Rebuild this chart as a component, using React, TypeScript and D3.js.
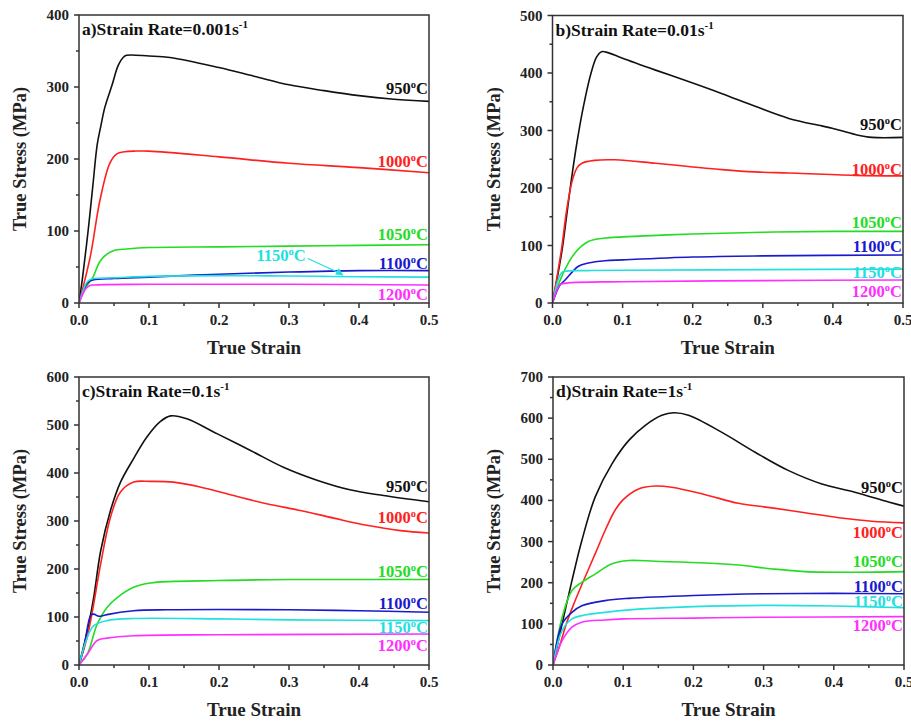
import React from "react";
import * as d3 from "d3";

type Pt = [number, number];

// ---- Panel a) 0.001 s^-1 ----
const a950: Pt[] = [[0,0],[0.005,35],[0.013,100],[0.02,165],[0.026,220],[0.031,245],[0.037,272],[0.047,302],[0.056,330],[0.063,341],[0.068,344],[0.1,343],[0.13,341],[0.2,327],[0.25,315],[0.3,303],[0.35,295],[0.4,288],[0.45,283],[0.5,280]];
const a1000: Pt[] = [[0,0],[0.016,64],[0.03,143],[0.044,194],[0.054,207],[0.065,210],[0.08,211],[0.1,211],[0.2,203],[0.3,194],[0.4,188],[0.5,181]];
const a1050: Pt[] = [[0,0],[0.01,22],[0.015,29],[0.02,36],[0.03,58],[0.04,68],[0.05,73],[0.068,75],[0.1,77],[0.2,78],[0.3,79],[0.4,80],[0.5,81]];
const a1100: Pt[] = [[0,0],[0.005,15],[0.01,25],[0.015,30],[0.02,32],[0.05,34],[0.1,36],[0.2,40],[0.3,43],[0.4,45],[0.5,45]];
const a1150: Pt[] = [[0,0],[0.01,27],[0.015,32],[0.02,34],[0.05,35],[0.1,37],[0.2,38],[0.3,37.5],[0.4,36.5],[0.5,36]];
const a1200: Pt[] = [[0,0],[0.005,12],[0.01,20],[0.015,24],[0.02,25],[0.1,26],[0.3,26],[0.5,25]];

// ---- Panel b) 0.01 s^-1 ----
const b950: Pt[] = [[0,0],[0.013,87],[0.02,150],[0.027,215],[0.035,280],[0.044,341],[0.055,400],[0.063,428],[0.07,437],[0.08,435],[0.099,426],[0.147,405],[0.199,383],[0.242,364],[0.289,342],[0.337,321],[0.384,308],[0.399,304],[0.432,293],[0.456,288],[0.5,288]];
const b1000: Pt[] = [[0,0],[0.013,95],[0.02,160],[0.028,212],[0.035,235],[0.042,243],[0.06,248],[0.089,249],[0.147,243],[0.194,237.5],[0.242,232],[0.289,228],[0.337,226],[0.432,222],[0.5,221]];
const b1050: Pt[] = [[0,0],[0.013,46],[0.032,87],[0.051,107],[0.075,113],[0.1,115],[0.2,120],[0.3,123],[0.4,124.5],[0.5,124.5]];
const b1100: Pt[] = [[0,0],[0.01,30],[0.018,40],[0.037,64],[0.051,69.5],[0.075,73.5],[0.1,75],[0.2,80],[0.3,82],[0.5,83.5]];
const b1150: Pt[] = [[0,0],[0.008,40],[0.013,53],[0.02,55.5],[0.05,56.3],[0.1,57],[0.3,58],[0.5,59]];
const b1200: Pt[] = [[0,0],[0.006,22],[0.011,32],[0.023,35],[0.1,37],[0.3,39],[0.5,40]];

// ---- Panel c) 0.1 s^-1 ----
const c950: Pt[] = [[0,0],[0.012,72],[0.021,141],[0.031,238],[0.045,322],[0.059,380],[0.078,430],[0.097,475],[0.116,507],[0.131,519],[0.154,513],[0.197,482],[0.245,447],[0.292,412],[0.34,385],[0.387,365],[0.435,353],[0.5,340]];
const c1000: Pt[] = [[0,0],[0.012,60],[0.021,127],[0.031,211],[0.045,308],[0.059,360],[0.078,381],[0.102,382.5],[0.135,381],[0.173,371],[0.221,353],[0.268,336],[0.316,322],[0.364,306],[0.411,291],[0.459,280],[0.5,275]];
const c1050: Pt[] = [[0,0],[0.012,23],[0.026,85],[0.04,120],[0.055,141],[0.078,162],[0.102,171],[0.2,176],[0.3,178],[0.5,178]];
const c1100: Pt[] = [[0,0],[0.007,37],[0.017,104],[0.021,106],[0.027,102],[0.031,101.5],[0.04,105],[0.078,113],[0.126,115],[0.3,115],[0.4,113],[0.5,110]];
const c1150: Pt[] = [[0,0],[0.012,58],[0.021,82],[0.04,92.5],[0.078,97],[0.2,96],[0.3,94],[0.5,92.5]];
const c1200: Pt[] = [[0,0],[0.012,23],[0.026,51],[0.04,56],[0.078,61],[0.2,63],[0.5,64.5]];

// ---- Panel d) 1 s^-1 ----
const d950: Pt[] = [[0,0],[0.013,100],[0.027,205],[0.041,302],[0.06,408],[0.084,489],[0.108,546],[0.131,582],[0.155,607],[0.172,613],[0.193,607],[0.24,566],[0.288,517],[0.335,473],[0.383,440],[0.43,420],[0.478,396],[0.5,386]];
const d1000: Pt[] = [[0,0],[0.01,50],[0.02,105],[0.03,150],[0.041,195],[0.06,270],[0.075,330],[0.088,375],[0.1,402],[0.122,428],[0.146,435],[0.169,432],[0.217,414],[0.264,393],[0.312,382],[0.359,370],[0.407,358],[0.454,349.5],[0.5,345.5]];
const d1050: Pt[] = [[0,0],[0.013,116],[0.027,181],[0.041,201],[0.06,221],[0.084,246],[0.108,254],[0.146,252],[0.217,248],[0.264,243],[0.312,233.5],[0.359,227],[0.43,225.5],[0.5,227]];
const d1100: Pt[] = [[0,0],[0.013,100],[0.027,128],[0.041,144],[0.074,156.5],[0.108,162],[0.2,169],[0.3,173],[0.4,174],[0.5,173]];
const d1150: Pt[] = [[0,0],[0.013,83.5],[0.027,112],[0.041,120],[0.074,128],[0.108,134],[0.2,142],[0.3,145],[0.4,143.5],[0.5,139]];
const d1200: Pt[] = [[0,0],[0.013,59],[0.027,92],[0.041,104],[0.074,109.5],[0.1,112],[0.2,114],[0.3,116],[0.5,117.5]];

const temps = ["950", "1000", "1050", "1100", "1150", "1200"];
const colors = ["#111111", "#ff2020", "#22dd22", "#1a1acc", "#22e0e0", "#ff30ff"];
const xTicks = [0, 0.1, 0.2, 0.3, 0.4, 0.5];
const xTickLabels = ["0.0", "0.1", "0.2", "0.3", "0.4", "0.5"];

const titles = ["a)Strain Rate=0.001s", "b)Strain Rate=0.01s", "c)Strain Rate=0.1s", "d)Strain Rate=1s"];
const yMaxes = [400, 500, 600, 700];
const seriesByPanel = [
  [a950, a1000, a1050, a1100, a1150, a1200],
  [b950, b1000, b1050, b1100, b1150, b1200],
  [c950, c1000, c1050, c1100, c1150, c1200],
  [d950, d1000, d1050, d1100, d1150, d1200],
];

// layout (pixels)
const boxes = [
  { l: 79, r: 429, t: 15, b: 303 },
  { l: 552.5, r: 903, t: 15.5, b: 303 },
  { l: 79, r: 429, t: 377, b: 665 },
  { l: 553, r: 904, t: 377, b: 665 },
];
// label baselines per panel (px), right-aligned
const labelY = [
  [94, 167, 239.5, 269, 261, 300],
  [130, 175, 228, 251.7, 278, 296.7],
  [492.3, 523.3, 576.7, 609, 633.3, 650.7],
  [493, 538.3, 566.7, 591.7, 607.3, 631.3],
];

const FONT = "'Liberation Serif', 'Times New Roman', serif";
const AX = "#333";

function TempLabel({ x, y, t, color, anchor = "end" }: any) {
  return (
    <text x={x} y={y} textAnchor={anchor} fill={color} fontFamily={FONT} fontWeight="bold" fontSize={16.5}>
      {t}
      <tspan dy={-6} fontSize={10.5}>o</tspan>
      <tspan dy={6}>C</tspan>
    </text>
  );
}

function Panel({ idx }: { idx: number }) {
  const bx = boxes[idx];
  const x = d3.scaleLinear().domain([0, 0.5]).range([bx.l, bx.r]);
  const y = d3.scaleLinear().domain([0, yMaxes[idx]]).range([bx.b, bx.t]);
  const line = d3.line<Pt>().x((d) => x(d[0])).y((d) => y(d[1])).curve(d3.curveCatmullRom.alpha(0.5));
  const yMajor = d3.range(0, yMaxes[idx] + 1, 100);
  const yMinor = d3.range(50, yMaxes[idx], 100);
  const xMinor = d3.range(0.05, 0.5, 0.1);
  const cx = (bx.l + bx.r) / 2;
  const cy = (bx.t + bx.b) / 2;
  const clipId = `clip${idx}`;
  return (
    <g>
      <defs>
        <clipPath id={clipId}>
          <rect x={bx.l} y={bx.t - 2} width={bx.r - bx.l} height={bx.b - bx.t + 2} />
        </clipPath>
      </defs>
      <g clipPath={`url(#${clipId})`}>
        {seriesByPanel[idx].map((s, i) => (
          <path key={i} d={line(s) || ""} fill="none" stroke={colors[i]} strokeWidth={1.6} />
        ))}
      </g>
      {/* frame */}
      <rect x={bx.l} y={bx.t} width={bx.r - bx.l} height={bx.b - bx.t} fill="none" stroke={AX} strokeWidth={1.5} />
      {/* x ticks */}
      {xTicks.map((v, i) => (
        <g key={"xt" + i}>
          <line x1={x(v)} x2={x(v)} y1={bx.b} y2={bx.b + 5} stroke={AX} strokeWidth={1.5} />
          <text x={x(v)} y={bx.b + 22} textAnchor="middle" fontFamily={FONT} fontWeight="bold" fontSize={15} fill="#222">
            {xTickLabels[i]}
          </text>
        </g>
      ))}
      {xMinor.map((v, i) => (
        <line key={"xm" + i} x1={x(v)} x2={x(v)} y1={bx.b} y2={bx.b + 3} stroke={AX} strokeWidth={1.5} />
      ))}
      {/* y ticks */}
      {yMajor.map((v, i) => (
        <g key={"yt" + i}>
          <line x1={bx.l - 5} x2={bx.l} y1={y(v)} y2={y(v)} stroke={AX} strokeWidth={1.5} />
          <text x={bx.l - 10} y={y(v) + 5} textAnchor="end" fontFamily={FONT} fontWeight="bold" fontSize={15} fill="#222">
            {v}
          </text>
        </g>
      ))}
      {yMinor.map((v, i) => (
        <line key={"ym" + i} x1={bx.l - 3} x2={bx.l} y1={y(v)} y2={y(v)} stroke={AX} strokeWidth={1.5} />
      ))}
      {/* axis titles */}
      <text x={cx} y={bx.b + 51} textAnchor="middle" fontFamily={FONT} fontWeight="bold" fontSize={19} fill="#222">
        True Strain
      </text>
      <text
        transform={`translate(${bx.l - 53},${cy}) rotate(-90)`}
        textAnchor="middle"
        fontFamily={FONT}
        fontWeight="bold"
        fontSize={18.5}
        fill="#222"
      >
        True Stress (MPa)
      </text>
      {/* panel title */}
      <text x={bx.l + 3} y={bx.t + 20} fontFamily={FONT} fontWeight="bold" fontSize={17.5} fill="#111">
        {titles[idx]}
        <tspan dy={-7} fontSize={11}>-1</tspan>
      </text>
      {/* temperature labels */}
      {temps.map((t, i) => {
        if (idx === 0 && i === 4) {
          return (
            <g key={"lb" + i}>
              <TempLabel x={256.5} y={labelY[idx][i]} t={t} color={colors[i]} anchor="start" />
            </g>
          );
        }
        return <TempLabel key={"lb" + i} x={bx.r - 1} y={labelY[idx][i]} t={t} color={colors[i]} />;
      })}
      {idx === 0 && (
        <g>
          <line x1={x(0.327)} y1={258.5} x2={x(0.375)} y2={274} stroke={colors[4]} strokeWidth={1.3} />
          <path
            d={`M${x(0.378)},${275.5} L${x(0.366)},${274.5} L${x(0.371)},${268} Z`}
            fill={colors[4]}
          />
        </g>
      )}
    </g>
  );
}

export default function App() {
  return (
    <svg
      width={911}
      height={728}
      style={{ position: "absolute", left: 0, top: 0, background: "#fff" }}
    >
      <rect width={911} height={728} fill="#fff" />
      {[0, 1, 2, 3].map((i) => (
        <Panel key={i} idx={i} />
      ))}
    </svg>
  );
}
